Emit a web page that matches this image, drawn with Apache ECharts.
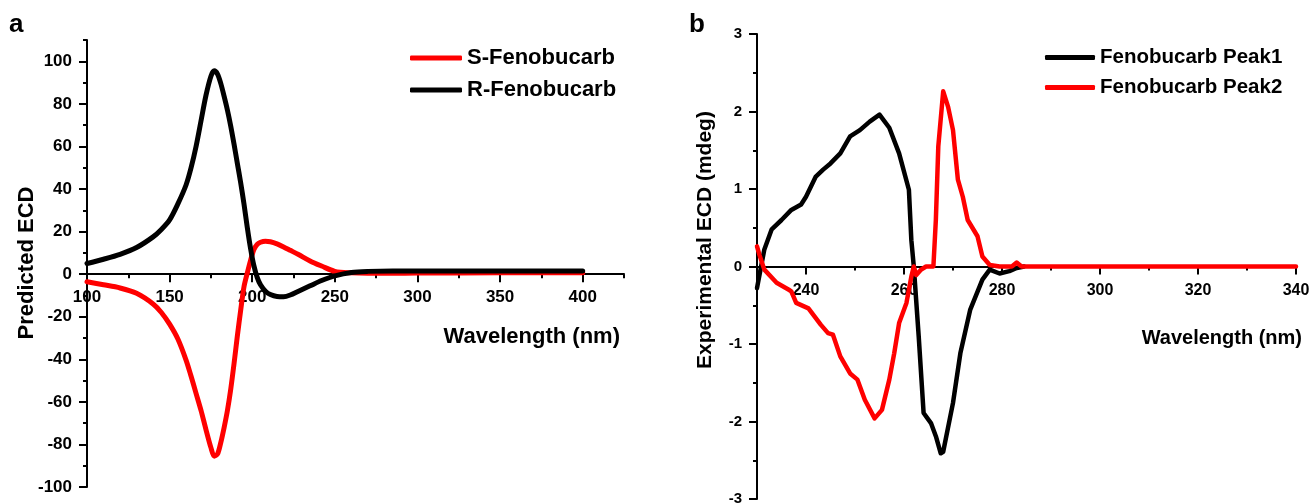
<!DOCTYPE html>
<html>
<head>
<meta charset="utf-8">
<script src="https://cdn.jsdelivr.net/npm/echarts@6/dist/echarts.min.js"></script>
<style>
  html, body { margin: 0; padding: 0; background: #fff; }
  #chart { width: 1311px; height: 503px; }
</style>
</head>
<body>
<div id="chart"></div>
<script>
// panel a: predicted ECD
var predWave = [100, 110, 120, 130, 140, 145, 150, 155, 160, 163, 166, 169, 172, 175, 177, 179, 181, 183, 185, 187, 189, 191, 193, 195, 197, 199, 201, 203, 205, 208, 211, 215, 219, 223, 228, 235, 242, 250, 260, 270, 285, 300, 350, 400];
var sFeno = [-3.6, -5, -6.5, -9, -14, -18, -23.5, -30.5, -40.5, -48, -56, -64, -73, -81.5, -85.5, -84.5, -79, -72, -64, -54, -42, -29, -17, -6, 0.5, 6.5, 11.5, 14, 15, 15.5, 15.2, 14.2, 12.8, 11.2, 9.2, 6.2, 3.8, 1.3, 0.6, 0.4, 0.4, 0.5, 0.6, 0.6];
var rFeno = [5, 7, 9.3, 12.5, 17.5, 21, 25.5, 33, 42, 50, 60, 72, 84, 93, 95.5, 94, 89.5, 83.5, 77, 69.5, 61, 52, 43, 33, 22, 12, 4, -1.5, -5, -8, -9.6, -10.5, -10.6, -9.8, -8, -5.5, -3, -0.8, 0.8, 1.3, 1.5, 1.5, 1.5, 1.5];
var predXTicks = [100, 150, 200, 250, 300, 350, 400];
var predXMinor = [125, 175, 225, 275, 325, 375, 425];
var predYTicks = [-100, -80, -60, -40, -20, 0, 20, 40, 60, 80, 100];
var predYMinor = [-90, -70, -50, -30, -10, 10, 30, 50, 70, 90, 110];

// panel b: experimental ECD
var peak1Wave = [230, 231.5, 233, 235, 237, 239, 240, 242, 243.5, 245, 247, 249, 251, 253, 255, 257, 259, 261, 261.5, 262, 263, 264, 265.5, 266.5, 267.5, 268, 270, 271.5, 273.5, 276, 277.5, 279.5, 281.5, 283, 284.5];
var peak1Ecd = [-0.28, 0.22, 0.48, 0.6, 0.73, 0.8, 0.9, 1.16, 1.25, 1.33, 1.46, 1.68, 1.76, 1.87, 1.96, 1.79, 1.46, 0.99, 0.34, 0, -0.9, -1.89, -2.02, -2.19, -2.41, -2.39, -1.76, -1.12, -0.56, -0.17, -0.04, -0.09, -0.06, -0.02, 0];
var peak2Wave = [230, 230.5, 231.5, 234, 236.5, 237, 238, 240.5, 243, 244.5, 245.5, 247, 249, 250.5, 252, 254, 255.5, 257, 258, 259, 260.5, 261.5, 262, 262.5, 263.5, 264.5, 266, 266.5, 267, 268, 269, 270, 271, 272, 273, 275, 276, 277.5, 279.5, 282, 283, 284, 290, 300, 320, 340];
var peak2Ecd = [0.26, 0.15, -0.04, -0.21, -0.3, -0.32, -0.47, -0.54, -0.75, -0.86, -0.88, -1.16, -1.38, -1.46, -1.72, -1.96, -1.85, -1.46, -1.12, -0.73, -0.47, -0.13, 0, -0.11, -0.04, 0, 0, 0.6, 1.55, 2.26, 2.06, 1.76, 1.12, 0.9, 0.6, 0.39, 0.13, 0.02, 0, 0, 0.05, 0, 0, 0, 0, 0];
var expXTicks = [240, 260, 280, 300, 320, 340];
var expXMinor = [250, 270, 290, 310, 330];

function pairs(xs, ys) {
  return xs.map(function (x, i) { return [x, ys[i]]; });
}

var FONT = '"Liberation Sans", Arial, sans-serif';

// grid boxes; the x axis is lifted from the grid bottom to the y = 0 line
var gridA = { left: 87, top: 40, width: 537, height: 447 };
var gridB = { left: 757, top: 34, width: 539, height: 465 };
var zeroA = -gridA.height * 100 / 210;   // y range -100..110
var zeroB = -gridB.height / 2;           // y range -3..3

function mainX(grid, min, max, ticks, off, fs, margin) {
  return {
    type: 'value', gridIndex: grid, min: min, max: max, position: 'bottom', offset: off,
    axisLine: { show: true, onZero: false, lineStyle: { color: '#000', width: 2 } },
    axisTick: { show: true, inside: false, length: 8, lineStyle: { width: 2, color: '#000' }, customValues: ticks },
    axisLabel: { customValues: ticks, color: '#000', fontSize: fs, fontWeight: 'bold', fontFamily: FONT, margin: margin },
    splitLine: { show: false }
  };
}
function minorX(grid, min, max, ticks, off) {
  return {
    type: 'value', gridIndex: grid, min: min, max: max, position: 'bottom', offset: off,
    axisLine: { show: false, onZero: false },
    axisTick: { show: true, inside: false, length: 4, lineStyle: { width: 2, color: '#000' }, customValues: ticks },
    axisLabel: { show: false },
    splitLine: { show: false }
  };
}

var chart = echarts.init(document.getElementById('chart'));
chart.setOption({
  animation: false,
  backgroundColor: '#fff',
  grid: [
    Object.assign({ outerBoundsMode: 'none' }, gridA),
    Object.assign({ outerBoundsMode: 'none' }, gridB)
  ],
  xAxis: [
    mainX(0, 100, 425, predXTicks, zeroA, 17, 15),
    minorX(0, 100, 425, predXMinor, zeroA),
    mainX(1, 230, 340, expXTicks, zeroB, 16, 16),
    minorX(1, 230, 340, expXMinor, zeroB)
  ],
  yAxis: [
    {
      type: 'value', gridIndex: 0, min: -100, max: 110, position: 'left',
      axisLine: { show: true, onZero: false, lineStyle: { color: '#000', width: 2 } },
      axisTick: { show: true, length: 8, lineStyle: { width: 2, color: '#000' }, customValues: predYTicks },
      axisLabel: { customValues: predYTicks, color: '#000', fontSize: 17, fontWeight: 'bold', fontFamily: FONT, margin: 15 },
      splitLine: { show: false }
    },
    {
      type: 'value', gridIndex: 0, min: -100, max: 110, position: 'left',
      axisLine: { show: false, onZero: false },
      axisTick: { show: true, length: 4, lineStyle: { width: 2, color: '#000' }, customValues: predYMinor },
      axisLabel: { show: false },
      splitLine: { show: false }
    },
    {
      type: 'value', gridIndex: 1, min: -3, max: 3, interval: 1, position: 'left',
      axisLine: { show: true, onZero: false, lineStyle: { color: '#000', width: 2 } },
      axisTick: { show: true, length: 8, lineStyle: { width: 2, color: '#000' } },
      minorTick: { show: true, splitNumber: 2, length: 4, lineStyle: { width: 2, color: '#000' } },
      axisLabel: { color: '#000', fontSize: 15, fontWeight: 'bold', fontFamily: FONT, margin: 15 },
      splitLine: { show: false }
    }
  ],
  legend: [
    {
      data: ['S-Fenobucarb', 'R-Fenobucarb'],
      orient: 'vertical', left: 405, top: 42, itemWidth: 52, itemHeight: 5, itemGap: 10,
      icon: 'roundRect',
      textStyle: { color: '#000', fontSize: 22, fontWeight: 'bold', fontFamily: FONT }
    },
    {
      data: ['Fenobucarb Peak1', 'Fenobucarb Peak2'],
      orient: 'vertical', left: 1040, top: 42, itemWidth: 50, itemHeight: 5, itemGap: 9,
      icon: 'roundRect',
      textStyle: { color: '#000', fontSize: 20.5, fontWeight: 'bold', fontFamily: FONT }
    }
  ],
  graphic: [
    { type: 'text', left: 9, top: 12, style: { text: 'a', fill: '#000', font: 'bold 26px ' + FONT } },
    { type: 'text', left: 689, top: 12, style: { text: 'b', fill: '#000', font: 'bold 26px ' + FONT } },
    { type: 'text', x: 27, y: 263, rotation: Math.PI / 2,
      style: { text: 'Predicted ECD', fill: '#000', font: 'bold 22px ' + FONT, textAlign: 'center', textVerticalAlign: 'middle' } },
    { type: 'text', x: 620, y: 337,
      style: { text: 'Wavelength (nm)', fill: '#000', font: 'bold 22px ' + FONT, textAlign: 'right', textVerticalAlign: 'middle' } },
    { type: 'text', x: 705, y: 240, rotation: Math.PI / 2,
      style: { text: 'Experimental ECD (mdeg)', fill: '#000', font: 'bold 21px ' + FONT, textAlign: 'center', textVerticalAlign: 'middle' } },
    { type: 'text', x: 1302, y: 338,
      style: { text: 'Wavelength (nm)', fill: '#000', font: 'bold 20px ' + FONT, textAlign: 'right', textVerticalAlign: 'middle' } }
  ],
  series: [
    {
      name: 'S-Fenobucarb', type: 'line', xAxisIndex: 0, yAxisIndex: 0,
      data: pairs(predWave, sFeno), smooth: 0.3, symbol: 'none', color: '#ff0000',
      lineStyle: { width: 5, color: '#ff0000', cap: 'round', join: 'round' }
    },
    {
      name: 'R-Fenobucarb', type: 'line', xAxisIndex: 0, yAxisIndex: 0,
      data: pairs(predWave, rFeno), smooth: 0.3, symbol: 'none', color: '#000',
      lineStyle: { width: 5, color: '#000', cap: 'round', join: 'round' }
    },
    {
      name: 'Fenobucarb Peak1', type: 'line', xAxisIndex: 2, yAxisIndex: 2,
      data: pairs(peak1Wave, peak1Ecd), symbol: 'none', color: '#000',
      lineStyle: { width: 4.5, color: '#000', cap: 'round', join: 'round' }
    },
    {
      name: 'Fenobucarb Peak2', type: 'line', xAxisIndex: 2, yAxisIndex: 2,
      data: pairs(peak2Wave, peak2Ecd), symbol: 'none', color: '#ff0000',
      lineStyle: { width: 4.5, color: '#ff0000', cap: 'round', join: 'round' }
    }
  ]
});
</script>
</body>
</html>
